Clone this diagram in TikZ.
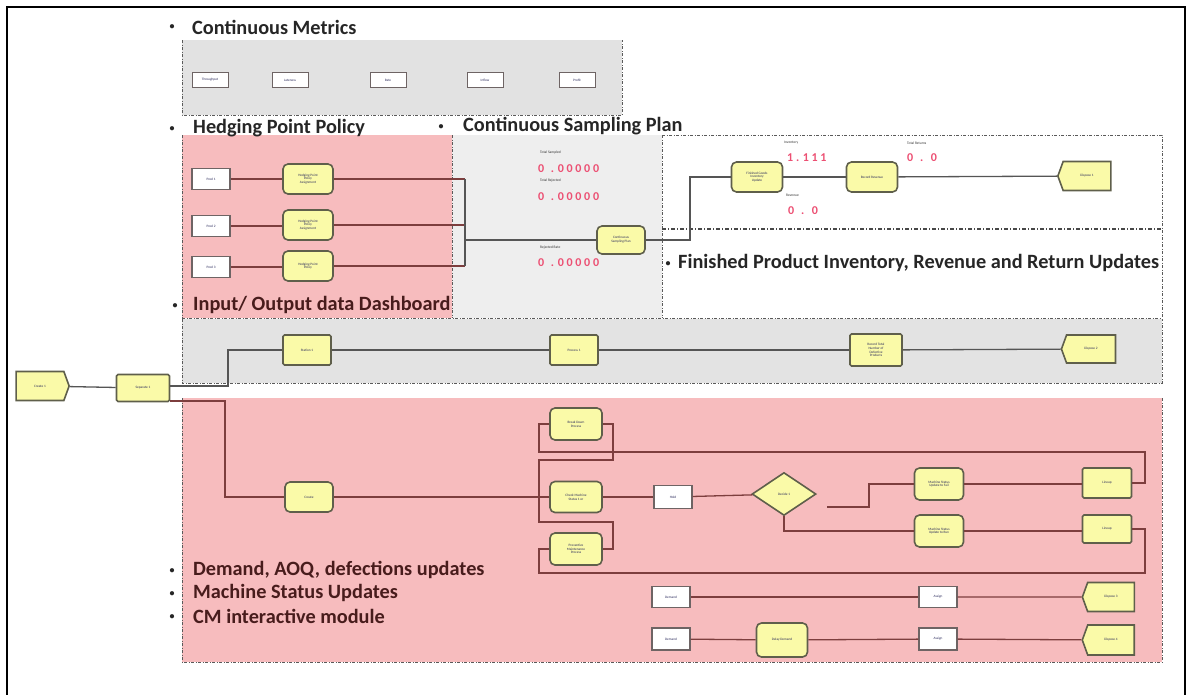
\documentclass[tikz,border=0pt]{standalone}
\usepackage{fontspec}
\setmainfont{Carlito}
\usetikzlibrary{shapes.geometric,shapes.symbols,calc}

\definecolor{pinkfill}{RGB}{247,188,190}
\definecolor{bandgray}{RGB}{227,227,227}
\definecolor{cmgray}{RGB}{226,226,226}
\definecolor{sampgray}{RGB}{238,238,238}
\definecolor{procfill}{RGB}{250,250,168}
\definecolor{procborder}{RGB}{95,95,75}
\definecolor{boxborder}{RGB}{110,100,100}
\definecolor{graylink}{RGB}{85,85,85}
\definecolor{pinklink}{RGB}{125,62,62}
\definecolor{digitred}{RGB}{236,80,115}
\definecolor{headdark}{RGB}{38,38,38}
\definecolor{headmaroon}{RGB}{72,28,28}
\definecolor{tinyink}{RGB}{40,40,90}
\definecolor{regionline}{RGB}{90,90,90}

\begin{document}
\begin{tikzpicture}[x=1pt,y=-1pt,
  tinytext/.style={font=\fontsize{3.4}{3.8}\selectfont, text=tinyink, align=center, inner sep=0pt},
  proc/.style={tinytext, draw=procborder, line width=1.6pt, fill=procfill, rounded corners=5pt,
    minimum width=50pt, minimum height=30pt},
  sqproc/.style={proc, rounded corners=1.5pt},
  wbox/.style={tinytext, draw=boxborder, line width=1.3pt, fill=white, minimum width=38pt, minimum height=21pt},
  smallbox/.style={tinytext, draw=boxborder, line width=1pt, fill=white, minimum width=36pt, minimum height=15pt},
  disposal/.style={tinytext, draw=procborder, line width=1.6pt, fill=procfill, shape=signal,
    signal to=west, signal pointer angle=140, minimum width=53pt, minimum height=29pt},
  creation/.style={disposal, signal to=east},
  decider/.style={tinytext, draw=procborder, line width=1.6pt, fill=procfill, shape=diamond,
    minimum width=64pt, minimum height=43pt},
  glink/.style={draw=graylink, line width=1.3pt},
  plink/.style={draw=pinklink, line width=1.3pt},
  heading/.style={font=\fontsize{20.3}{23}\selectfont\bfseries, text=headdark, inner sep=0pt, anchor=west},
  pheading/.style={heading, text=headmaroon},
  bulletmark/.style={font=\fontsize{10}{12}\selectfont\bfseries, text=headdark, inner sep=0pt},
  region/.style={draw=regionline, line width=0.8pt, dash pattern=on 3pt off 1.5pt on 1pt off 1.5pt},
  divider/.style={draw=regionline!80!black, line width=1.4pt, dash pattern=on 4pt off 2pt on 1pt off 2pt},
  meterlabel/.style={font=\fontsize{3.6}{4}\selectfont, text=black!80, inner sep=0pt, anchor=west},
  meter/.style={font=\fontsize{12}{12}\selectfont\bfseries, text=digitred, inner sep=0pt, anchor=west},
]
\useasboundingbox (0,0) rectangle (1189,694);

% ---------- shaded areas ----------
\fill[cmgray] (182,40) rectangle (622,115);
\fill[pinkfill] (182,135) rectangle (452,318);
\fill[sampgray] (452,135) rectangle (662,318);
\fill[bandgray] (182,319) rectangle (1162,383);
\fill[pinkfill] (182,398) rectangle (1162,662);

% ---------- area outlines ----------
\draw[region] (182,40) -- (182,115) -- (622,115) -- (622,40);
\draw[region] (182,135) -- (182,318);
\draw[region] (452,135) -- (452,318);
\draw[region] (662,135) -- (662,318);
\draw[region] (662,135) -- (1162,135) -- (1162,318);
\draw[divider] (662,229) -- (1162,229);
\draw[region] (182,318) -- (1162,318);
\draw[region] (182,319) -- (182,383) -- (1162,383) -- (1162,319);
\draw[region] (182,398) -- (182,662) -- (1162,662) -- (1162,398);

% ---------- outer frame ----------
\draw[line width=2pt] (7,700) -- (7,7) -- (1185,7) -- (1185,700);

% ---------- section headings ----------
\node[bulletmark] at (172,27) {•};
\node[heading] (hcm) at (192,27) {Continuous Metrics};
\node[bulletmark] at (172,129) {•};
\node[heading] (hhp) at (193,128) {Hedging Point Policy};
\node[bulletmark] at (441,127) {•};
\node[heading] (hcs) at (463,126) {Continuous Sampling Plan};
\node[bulletmark] at (175,306) {•};
\node[pheading] (hio) at (193,305) {Input/ Output data Dashboard};
\node[bulletmark] at (668,264) {•};
\node[heading] (hfp) at (678,263) {Finished Product Inventory, Revenue and Return Updates};
\node[bulletmark] at (172,571) {•};
\node[pheading] (hd1) at (193,570) {Demand, AOQ, defections updates};
\node[bulletmark] at (172,594) {•};
\node[pheading] (hd2) at (193,593) {Machine Status Updates};
\node[bulletmark] at (172,617) {•};
\node[pheading] (hd3) at (193,616) {CM interactive module};

% ---------- continuous metrics ----------
\node[smallbox] (cm1) at (210,80) {Throughput};
\node[smallbox] (cm2) at (290,80) {Lateness};
\node[smallbox] (cm3) at (388,80) {Rate};
\node[smallbox] (cm4) at (485,80) {Inflow};
\node[smallbox] (cm5) at (577,80) {Profit};

% ---------- hedging point policy ----------
\node[wbox] (in1) at (211,179) {Prod 1};
\node[wbox] (in2) at (211,226) {Prod 2};
\node[wbox] (in3) at (211,267) {Prod 3};
\node[proc] (hp1) at (308,179) {Hedging Point\\Policy\\Assignment};
\node[proc] (hp2) at (308,225) {Hedging Point\\Policy\\Assignment};
\node[proc] (hp3) at (308,266) {Hedging Point\\Policy};
\coordinate (hjt) at (465,179);
\coordinate (hjb) at (465,266);
\coordinate (hjm) at (465,240);
\draw[plink] (in1) -- (hp1);
\draw[plink] (in2) -- (in2 -| hp2.west);
\draw[plink] (in3) -- (in3 -| hp3.west);
\draw[plink] (hp1) -- (hp1 -| hjt);
\draw[plink] (hp2) -- (hp2 -| hjt);
\draw[plink] (hp3) -- (hp3 -| hjt);
\draw[glink] (hjt) -- (hjb);

% ---------- continuous sampling plan ----------
\node[proc, minimum width=48pt, minimum height=28pt] (samp) at (621,240) {Continuous\\Sampling Plan};
\draw[glink] (hjm) -- (samp);
\node[meterlabel] at (540,153) {Total Sampled};
\node[meter] at (538,169) {0\,\, . 0 0 0 0 0};
\node[meterlabel] at (540,181) {Total Rejected};
\node[meter] at (538,197) {0\,\, . 0 0 0 0 0};
\node[meterlabel] at (540,248) {Rejected Rate};
\node[meter] at (538,263) {0\,\, . 0 0 0 0 0};

% ---------- finished product updates ----------
\node[proc, minimum width=51pt] (fp1) at (757,177) {Finished Goods\\Inventory\\Update};
\node[proc, minimum width=51pt] (fp2) at (872,177) {Record Revenue};
\node[disposal] (fp3) at (1087,176) {Dispose 1};
\coordinate (fpj) at (690,240);
\draw[glink] (samp) -- (fpj) |- (fp1);
\draw[glink] (fp1) -- (fp2);
\draw[glink] (fp2) -- (fp3);
\node[meterlabel] at (784,143) {Inventory};
\node[meter] at (787,158) {1 . 1 1 1};
\node[meterlabel] at (786,195) {Revenue};
\node[meter] at (788,211) {0\,\, . \,\,0};
\node[meterlabel] at (907,143) {Total Returns};
\node[meter] at (907,158) {0\,\, . \,\,0};

% ---------- input / output band ----------
\node[creation] (cr) at (40,386) {Create 1};
\node[sqproc, minimum width=53pt, minimum height=27pt] (sep) at (143,388) {Separate 1};
\node[sqproc, minimum width=48pt] (b1) at (307,350) {Station 1};
\node[sqproc, minimum width=48pt] (b2) at (574,350) {Process 1};
\node[sqproc, minimum width=52pt, minimum height=32pt] (b3) at (876,350) {Record Total\\Number of\\Defective\\Products};
\node[disposal, minimum width=54pt, minimum height=28pt] (b4) at (1091,349) {Dispose 2};
\coordinate (bup) at (228,350);
\coordinate (pdown) at (225,497);
\draw[glink] (cr) -- (sep);
\draw[glink] ([yshift=2pt]sep.east) -| (bup) -- (b1);
\draw[glink] (b1) -- (b2);
\draw[glink] (b2) -- (b3);
\draw[glink] (b3) -- (b4);

% ---------- demand / machine status ----------
\node[proc, minimum width=48pt] (pr) at (309,497) {Create};
\node[proc, minimum width=52pt, minimum height=32pt] (lt) at (576,424) {Break Down\\Process};
\node[proc, minimum width=52pt, minimum height=31pt] (lm) at (576,497) {Check Machine\\Status 1 or};
\node[proc, minimum width=52pt, minimum height=32pt] (lb) at (576,549) {Preventive\\Maintenance\\Process};
\node[wbox, minimum height=23pt] (hold) at (673,497) {Hold};
\node[decider] (dec) at (784,494) {Decide 1};
\node[proc, minimum width=49pt, minimum height=32pt] (d1) at (939,484) {Machine Status\\Update to Fail};
\node[proc, minimum width=49pt, minimum height=32pt] (d2) at (939,531) {Machine Status\\Update to Run};
\node[sqproc, minimum width=49pt] (r1) at (1107,483) {Lineup};
\node[sqproc, minimum width=49pt, minimum height=28pt] (r2) at (1107,529) {Lineup};

\draw[plink] ([yshift=-13pt]sep.east) -| (pdown) -- (pr);
\draw[plink] (pr) -- (lm);
\draw[plink] (lm) -- (hold);
\draw[plink] (hold) -- (dec);
\coordinate (dect) at (827,507);
\draw[plink] (dect) -- (869,507) |- (d1);
\draw[plink] (dec.south) |- (d2);
\draw[plink] (d1) -- (d1 -| r1.west);
\draw[plink] (d2) -- (d2 -| r2.west);
% loop wiring around the breakdown / maintenance blocks
\coordinate (lxl) at (539,0);
\coordinate (lxr) at (613,0);
\coordinate (rx) at (1145,0);
\draw[plink] (lt.west) -- (lt.west -| lxl) -- (lxl |- 0,452) -- (rx |- 0,452) -- (rx |- r1) -- (r1.east);
\draw[plink] (lt.east) -- (lt.east -| lxr) -- (lxr |- 0,460) -- (lxl |- 0,460)
  -- (lxl |- 0,522) -- (lxr |- 0,522) -- (lxr |- lb) -- (lb.east);
\draw[plink] (lb.west) -- (lb.west -| lxl) -- (lxl |- 0,573) -- (rx |- 0,573) -- (rx |- r2) -- (r2.east);

% ---------- CM interactive module ----------
\node[wbox] (w1) at (671,597) {Demand};
\node[wbox] (w2) at (938,597) {Assign};
\node[disposal, minimum width=52pt] (x1) at (1111,597) {Dispose 3};
\node[wbox, minimum height=22pt] (w3) at (671,639) {Demand};
\node[proc, minimum width=51pt, minimum height=34pt] (y1) at (782,640) {Delay Demand};
\node[wbox, minimum height=22pt] (w4) at (938,639) {Assign};
\node[disposal, minimum width=52pt, minimum height=30pt] (x2) at (1111,640) {Dispose 4};
\draw[plink] (w1) -- (w2);
\draw[plink] (w2) -- (x1);
\draw[plink] (w3) -- (y1);
\draw[plink] (y1) -- (w4);
\draw[plink] (w4) -- (x2);
\end{tikzpicture}
\end{document}
